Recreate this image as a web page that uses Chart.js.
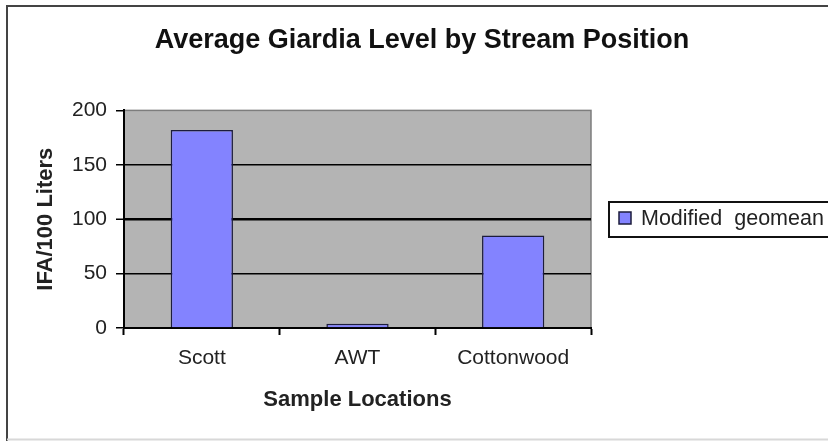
<!DOCTYPE html>
<html>
<head>
<meta charset="utf-8">
<style>
  html, body { margin: 0; padding: 0; background: #fff; }
  #wrap { width: 828px; height: 441px; }
</style>
<script src="https://cdn.jsdelivr.net/npm/chart.js@4.4.0/dist/chart.umd.min.js"></script>
</head>
<body>
<div id="wrap"><canvas id="myChart" width="828" height="441"></canvas></div>
<script>
  // chart data
  const locations = ['Scott', 'AWT', 'Cottonwood'];
  const geomean = [182, 4, 85];
  const seriesLabel = 'Modified  geomean';
  const yTicks = [0, 50, 100, 150, 200];

  const FONT = '"Liberation Sans", Arial, sans-serif';
  const INK = '#222';

  // gray plot background + frame, outer border and boxed legend
  const excelLook = {
    id: 'excelLook',
    beforeDraw(chart) {
      const { ctx, chartArea: a } = chart;
      ctx.save();
      ctx.fillStyle = '#b4b4b4';
      ctx.fillRect(a.left, a.top, a.right - a.left, a.bottom - a.top);
      ctx.strokeStyle = '#7d7d7d';
      ctx.lineWidth = 1.5;
      ctx.strokeRect(a.left, a.top, a.right - a.left, a.bottom - a.top);
      ctx.restore();
    },
    afterDraw(chart) {
      const { ctx } = chart;
      ctx.save();
      // outer chart border
      ctx.strokeStyle = '#444';
      ctx.lineWidth = 2;
      ctx.beginPath();
      ctx.moveTo(7, 441);
      ctx.lineTo(7, 6);
      ctx.lineTo(830, 6);
      ctx.stroke();
      ctx.strokeStyle = '#d8d8d8';
      ctx.beginPath();
      ctx.moveTo(7, 439.5);
      ctx.lineTo(830, 439.5);
      ctx.stroke();

      // legend box
      const ds = chart.data.datasets[0];
      ctx.strokeStyle = '#111';
      ctx.lineWidth = 2;
      ctx.fillStyle = '#fff';
      ctx.fillRect(609, 202, 240, 35);
      ctx.strokeRect(609, 202, 240, 35);
      ctx.fillStyle = ds.backgroundColor;
      ctx.fillRect(619, 212, 12, 12);
      ctx.strokeStyle = ds.borderColor;
      ctx.lineWidth = 1.5;
      ctx.strokeRect(619, 212, 12, 12);
      ctx.fillStyle = INK;
      ctx.font = '21.5px ' + FONT;
      ctx.textBaseline = 'middle';
      ctx.fillText(ds.label, 641, 219);
      ctx.restore();
    }
  };

  const ctx = document.getElementById('myChart').getContext('2d');
  const myChart = new Chart(ctx, {
    type: 'bar',
    data: {
      labels: locations,
      datasets: [{
        label: seriesLabel,
        data: geomean,
        backgroundColor: '#8383ff',
        borderColor: '#1c1c3c',
        borderWidth: 1.5,
        barPercentage: 0.4,
        categoryPercentage: 1.0
      }]
    },
    options: {
      responsive: false,
      animation: false,
      layout: { padding: { left: 16, right: 0, top: 0, bottom: 0 } },
      plugins: {
        legend: { display: false },
        tooltip: { enabled: false },
        title: {
          display: true,
          text: 'Average Giardia Level by Stream Position',
          color: '#111',
          font: { family: FONT, size: 27, weight: 'bold' },
          padding: { top: 24, bottom: 54 }
        }
      },
      scales: {
        x: {
          grid: {
            offset: true,
            drawOnChartArea: false,
            drawTicks: true,
            tickLength: 7,
            tickColor: '#000',
            tickWidth: 2
          },
          border: { display: true, color: '#000', width: 2 },
          ticks: { color: INK, padding: 11, font: { family: FONT, size: 21 } },
          title: {
            display: true,
            text: 'Sample Locations',
            color: INK,
            font: { family: FONT, size: 22, weight: 'bold' },
            padding: { top: 0, bottom: 28 }
          },
          afterFit(s) { s.height = 113; }
        },
        y: {
          min: 0,
          max: 200,
          afterBuildTicks(s) { s.ticks = yTicks.map(v => ({ value: v })); },
          grid: {
            color: c => (c.tick && c.tick.value === 200) ? 'rgba(0,0,0,0)' : '#000',
            lineWidth: c => (c.tick && c.tick.value === 100) ? 2.5 : 1.5,
            tickColor: '#000',
            tickLength: 8,
            tickWidth: 1.5
          },
          border: { display: true, color: '#000', width: 2 },
          ticks: { color: INK, padding: 9, font: { family: FONT, size: 21 } },
          title: {
            display: true,
            text: 'IFA/100 Liters',
            color: INK,
            font: { family: FONT, size: 22, weight: 'bold' },
            padding: { top: 17, bottom: 0 }
          },
          afterFit(s) { s.width = 108; }
        },
        // empty box that keeps room for the legend on the right
        yRoom: {
          position: 'right',
          display: true,
          grid: { display: false, drawTicks: false },
          border: { display: false },
          ticks: { display: false },
          afterFit(s) { s.width = 237; }
        }
      }
    },
    plugins: [excelLook]
  });
</script>
</body>
</html>
